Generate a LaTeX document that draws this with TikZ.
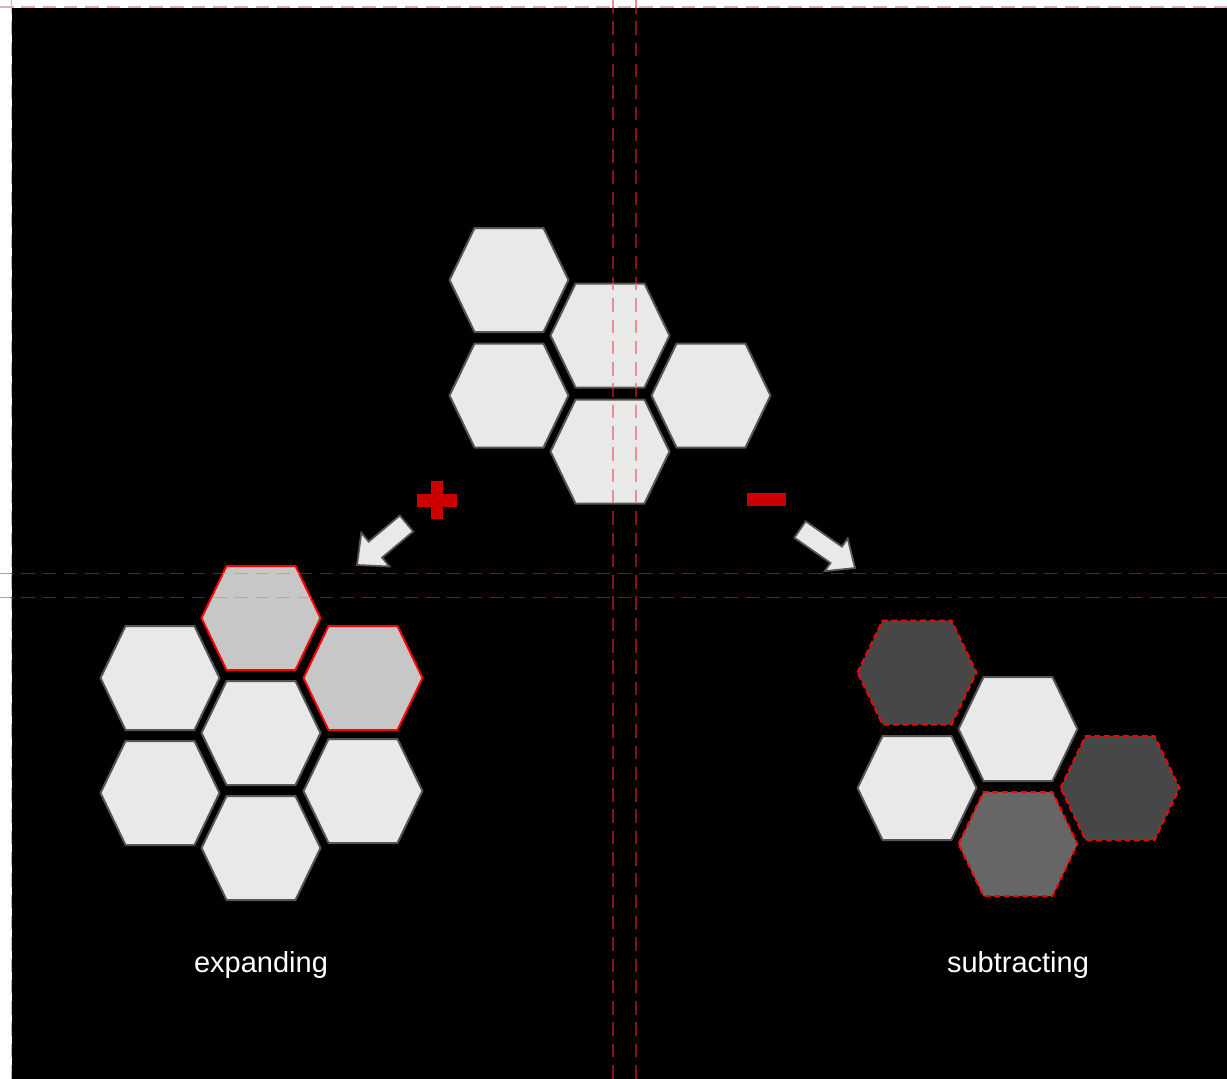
\documentclass[tikz,border=0pt]{standalone}
\usepackage{fontspec}
\setmainfont{Liberation Sans}
\definecolor{hexfill}{HTML}{E9E9E9}
\definecolor{hexline}{HTML}{555555}
\definecolor{addfill}{HTML}{C7C7C7}
\definecolor{darkfill}{HTML}{474747}
\definecolor{midfill}{HTML}{666666}
\definecolor{signred}{HTML}{CC0000}
\definecolor{guidedarkc}{HTML}{8E1020}
\definecolor{guidelightc}{HTML}{EC8C94}
\definecolor{guidepalec}{HTML}{E8A8B4}
\tikzset{
  hexbase/.style={line width=2pt, line join=round},
  hexcell/.style={hexbase, draw=hexline, fill=hexfill},
  hexadd/.style={hexbase, draw=red, fill=addfill},
  hexsubdark/.style={hexbase, draw=red, fill=darkfill, dash pattern=on 6pt off 3.5pt},
  hexsubmid/.style={hexbase, draw=red, fill=midfill, dash pattern=on 6pt off 3.5pt},
  blockarrow/.style={draw=hexline, fill=hexfill, line width=1.8pt, line join=miter},
  signbar/.style={fill=signred, draw=none},
  guidebase/.style={line width=1.2pt, dash pattern=on 13.5pt off 7.8pt},
  guidedark/.style={guidebase, draw=guidedarkc},
  guidelight/.style={guidebase, draw=guidelightc},
  guidepale/.style={guidebase, draw=guidepalec},
  caption/.style={text=white, font=\fontsize{29}{34}\selectfont, inner sep=0pt}
}
% hexagon outline around a named coordinate
\newcommand\hexshape[1]{([shift={(-59.5,0)}]#1) -- ([shift={(-34.5,-52)}]#1) -- ([shift={(34.5,-52)}]#1)
    -- ([shift={(59.5,0)}]#1) -- ([shift={(34.5,52)}]#1) -- ([shift={(-34.5,52)}]#1) -- cycle}
\newcommand\hexcellat[3]{%
  \coordinate (#2) at #3;
  \draw[#1] \hexshape{#2};}
\newcommand\innerguides[1]{%
  \draw[#1] (0,573.5) -- (1227,573.5);
  \draw[#1] (0,597.5) -- (1227,597.5);
  \draw[#1] (613,0) -- (613,1079);
  \draw[#1] (636,0) -- (636,1079);}
\begin{document}
\begin{tikzpicture}[x=1pt, y=-1pt]
\useasboundingbox (0,0) rectangle (1227,1079);
\fill[white] (0,0) rectangle (1227,1079);
\fill[black] (12,8) rectangle (1227,1079);

% centre cluster
\hexcellat{hexcell}{ca}{(509,280)}
\hexcellat{hexcell}{cb}{(610,335.5)}
\hexcellat{hexcell}{cc}{(509,395.5)}
\hexcellat{hexcell}{cd}{(610,451.5)}
\hexcellat{hexcell}{ce}{(711,395.5)}

% plus and minus signs
\fill[signbar] (417,493.5) rectangle (457,506.5);
\fill[signbar] (431,481) rectangle (443,519);
\fill[signbar] (747,493) rectangle (786,506);

% block arrows
\draw[blockarrow] (399.8,515.5) -- (413.2,531.5) -- (382.1,557.6) -- (389.5,566.5)
  -- (357,565) -- (361.3,532.7) -- (368.7,541.6) -- cycle;
\draw[blockarrow] (805.7,521.3) -- (794.3,537.7) -- (830.5,563) -- (824.7,571.2)
  -- (855,568) -- (847.7,538.4) -- (841.9,546.6) -- cycle;

% expanding cluster
\hexcellat{hexadd}{l1}{(261,618)}
\hexcellat{hexadd}{l2}{(363,678)}
\hexcellat{hexcell}{l3}{(160,678)}
\hexcellat{hexcell}{l4}{(261,733)}
\hexcellat{hexcell}{l5}{(160,793)}
\hexcellat{hexcell}{l6}{(363,791)}
\hexcellat{hexcell}{l7}{(261,848)}

% subtracting cluster
\hexcellat{hexsubdark}{r1}{(917,672.5)}
\hexcellat{hexcell}{r2}{(1018,729)}
\hexcellat{hexcell}{r3}{(917,788)}
\hexcellat{hexsubmid}{r4}{(1018,844)}
\hexcellat{hexsubdark}{r5}{(1120,788)}

% captions
\node[caption] (capl) at (261,965) {expanding};
\node[caption] (capr) at (1018,965) {subtracting};

% guides
\draw[guidepale] (0,7) -- (1227,7);
\draw[guidepale] (11.5,0) -- (11.5,1079);
\innerguides{guidedark}
\begin{scope}
  \clip \hexshape{cb} \hexshape{cd} \hexshape{l1} (0,0) rectangle (11,1079) (0,0) rectangle (1227,7.5);
  \innerguides{guidelight}
\end{scope}
\end{tikzpicture}
\end{document}
